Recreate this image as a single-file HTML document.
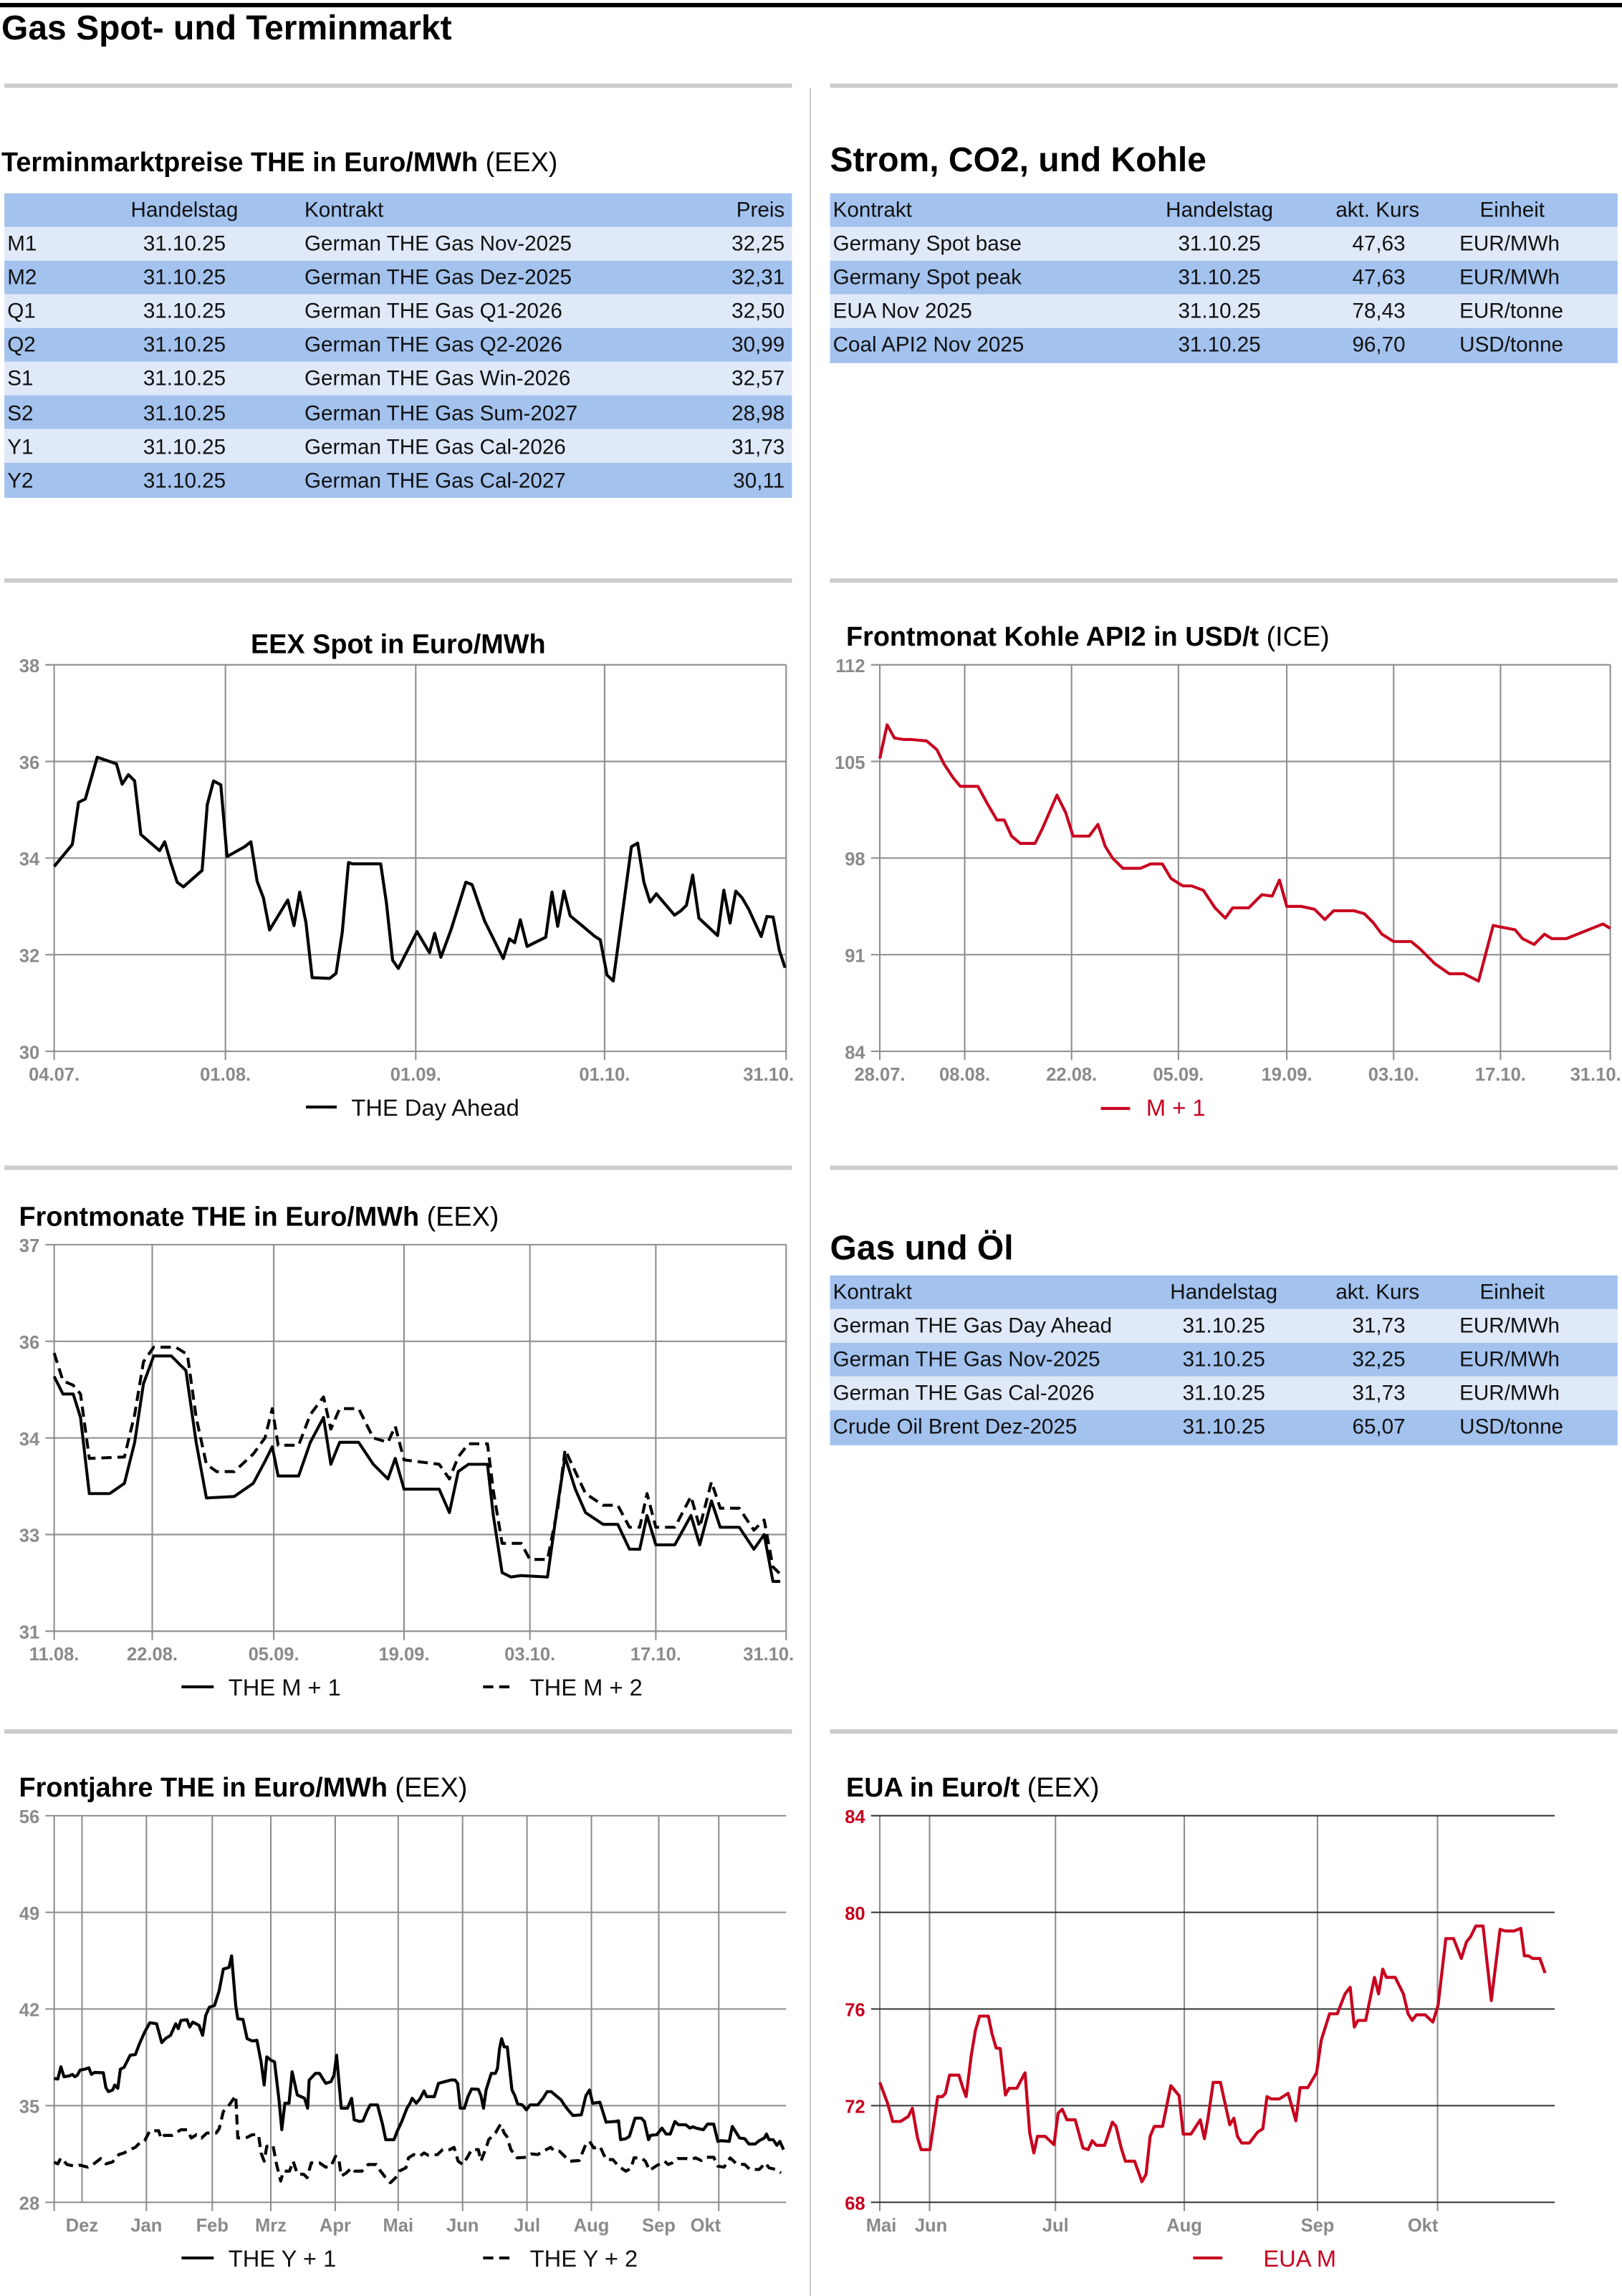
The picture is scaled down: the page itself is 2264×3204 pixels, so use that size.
<!DOCTYPE html>
<html><head><meta charset="utf-8"><style>
html,body{margin:0;padding:0;background:#fff}
svg{display:block}
text{font-family:"Liberation Sans",Arial,sans-serif}
.t{font-size:14.5px;fill:#111}
.tk{font-size:12.5px;fill:#8a8a8a;font-weight:bold}
.h{font-size:18.5px;font-weight:bold;fill:#000}
.hn{font-size:18.5px;fill:#000}
.g{stroke:#8c8c8c;stroke-width:1;fill:none}
.ln{fill:none;stroke:#000;stroke-width:2;stroke-linejoin:round}
.rd{fill:none;stroke:#c8001e;stroke-width:2;stroke-linejoin:round}
.ns{stroke-width:4.2}
.leg{font-size:16px;fill:#111}
</style></head><body>
<svg width="2264" height="3204" viewBox="0 0 1108 1568" preserveAspectRatio="none" xmlns="http://www.w3.org/2000/svg">
<rect x="0" y="2" width="1108" height="3" fill="#000"/>
<text x="1" y="27" style="font-size:23.5px;font-weight:bold">Gas Spot- und Terminmarkt</text>
<g fill="#cccccc">
<rect x="3" y="57" width="538" height="3"/><rect x="567" y="57" width="538" height="3"/>
<rect x="3" y="395" width="538" height="3"/><rect x="567" y="395" width="538" height="3"/>
<rect x="3" y="796" width="538" height="3"/><rect x="567" y="796" width="538" height="3"/>
<rect x="3" y="1181" width="538" height="3"/><rect x="567" y="1181" width="538" height="3"/>
<rect x="553" y="60" width="1" height="1508"/>
</g>

<text x="1" y="117"><tspan class="h">Terminmarktpreise THE in Euro/MWh</tspan><tspan class="hn"> (EEX)</tspan></text>
<g>
<rect x="3" y="132" width="538" height="23" fill="#a3c2ee"/>
<rect x="3" y="155" width="538" height="23" fill="#e0e9f8"/>
<rect x="3" y="178" width="538" height="23" fill="#a3c2ee"/>
<rect x="3" y="201" width="538" height="23" fill="#e0e9f8"/>
<rect x="3" y="224" width="538" height="23" fill="#a3c2ee"/>
<rect x="3" y="247" width="538" height="23" fill="#e0e9f8"/>
<rect x="3" y="270" width="538" height="23" fill="#a3c2ee"/>
<rect x="3" y="293" width="538" height="23" fill="#e0e9f8"/>
<rect x="3" y="316" width="538" height="24" fill="#a3c2ee"/>
</g>
<text class="t" x="126" y="148" text-anchor="middle">Handelstag</text><text class="t" x="208" y="148">Kontrakt</text><text class="t" x="536" y="148" text-anchor="end">Preis</text>
<text class="t" x="5" y="171">M1</text><text class="t" x="126" y="171" text-anchor="middle">31.10.25</text><text class="t" x="208" y="171">German THE Gas Nov-2025</text><text class="t" x="536" y="171" text-anchor="end">32,25</text>
<text class="t" x="5" y="194">M2</text><text class="t" x="126" y="194" text-anchor="middle">31.10.25</text><text class="t" x="208" y="194">German THE Gas Dez-2025</text><text class="t" x="536" y="194" text-anchor="end">32,31</text>
<text class="t" x="5" y="217">Q1</text><text class="t" x="126" y="217" text-anchor="middle">31.10.25</text><text class="t" x="208" y="217">German THE Gas Q1-2026</text><text class="t" x="536" y="217" text-anchor="end">32,50</text>
<text class="t" x="5" y="240">Q2</text><text class="t" x="126" y="240" text-anchor="middle">31.10.25</text><text class="t" x="208" y="240">German THE Gas Q2-2026</text><text class="t" x="536" y="240" text-anchor="end">30,99</text>
<text class="t" x="5" y="263">S1</text><text class="t" x="126" y="263" text-anchor="middle">31.10.25</text><text class="t" x="208" y="263">German THE Gas Win-2026</text><text class="t" x="536" y="263" text-anchor="end">32,57</text>
<text class="t" x="5" y="287">S2</text><text class="t" x="126" y="287" text-anchor="middle">31.10.25</text><text class="t" x="208" y="287">German THE Gas Sum-2027</text><text class="t" x="536" y="287" text-anchor="end">28,98</text>
<text class="t" x="5" y="310">Y1</text><text class="t" x="126" y="310" text-anchor="middle">31.10.25</text><text class="t" x="208" y="310">German THE Gas Cal-2026</text><text class="t" x="536" y="310" text-anchor="end">31,73</text>
<text class="t" x="5" y="333">Y2</text><text class="t" x="126" y="333" text-anchor="middle">31.10.25</text><text class="t" x="208" y="333">German THE Gas Cal-2027</text><text class="t" x="536" y="333" text-anchor="end">30,11</text>

<text x="567" y="117" style="font-size:23.5px;font-weight:bold">Strom, CO2, und Kohle</text>
<rect x="567" y="132" width="538" height="23" fill="#a3c2ee"/>
<rect x="567" y="155" width="538" height="23" fill="#e0e9f8"/>
<rect x="567" y="178" width="538" height="23" fill="#a3c2ee"/>
<rect x="567" y="201" width="538" height="23" fill="#e0e9f8"/>
<rect x="567" y="224" width="538" height="24" fill="#a3c2ee"/>
<text class="t" x="569" y="148">Kontrakt</text><text class="t" x="833" y="148" text-anchor="middle">Handelstag</text><text class="t" x="941" y="148" text-anchor="middle">akt. Kurs</text><text class="t" x="1033" y="148" text-anchor="middle">Einheit</text>
<text class="t" x="569" y="171">Germany Spot base</text><text class="t" x="833" y="171" text-anchor="middle">31.10.25</text><text class="t" x="960" y="171" text-anchor="end">47,63</text><text class="t" x="997" y="171">EUR/MWh</text>
<text class="t" x="569" y="194">Germany Spot peak</text><text class="t" x="833" y="194" text-anchor="middle">31.10.25</text><text class="t" x="960" y="194" text-anchor="end">47,63</text><text class="t" x="997" y="194">EUR/MWh</text>
<text class="t" x="569" y="217">EUA Nov 2025</text><text class="t" x="833" y="217" text-anchor="middle">31.10.25</text><text class="t" x="960" y="217" text-anchor="end">78,43</text><text class="t" x="997" y="217">EUR/tonne</text>
<text class="t" x="569" y="240">Coal API2 Nov 2025</text><text class="t" x="833" y="240" text-anchor="middle">31.10.25</text><text class="t" x="960" y="240" text-anchor="end">96,70</text><text class="t" x="997" y="240">USD/tonne</text>

<text x="567" y="860" style="font-size:23.5px;font-weight:bold">Gas und Öl</text>
<rect x="567" y="871" width="538" height="23" fill="#a3c2ee"/>
<rect x="567" y="894" width="538" height="23" fill="#e0e9f8"/>
<rect x="567" y="917" width="538" height="23" fill="#a3c2ee"/>
<rect x="567" y="940" width="538" height="23" fill="#e0e9f8"/>
<rect x="567" y="963" width="538" height="24" fill="#a3c2ee"/>
<text class="t" x="569" y="887">Kontrakt</text><text class="t" x="836" y="887" text-anchor="middle">Handelstag</text><text class="t" x="941" y="887" text-anchor="middle">akt. Kurs</text><text class="t" x="1033" y="887" text-anchor="middle">Einheit</text>
<text class="t" x="569" y="910">German THE Gas Day Ahead</text><text class="t" x="836" y="910" text-anchor="middle">31.10.25</text><text class="t" x="960" y="910" text-anchor="end">31,73</text><text class="t" x="997" y="910">EUR/MWh</text>
<text class="t" x="569" y="933">German THE Gas Nov-2025</text><text class="t" x="836" y="933" text-anchor="middle">31.10.25</text><text class="t" x="960" y="933" text-anchor="end">32,25</text><text class="t" x="997" y="933">EUR/MWh</text>
<text class="t" x="569" y="956">German THE Gas Cal-2026</text><text class="t" x="836" y="956" text-anchor="middle">31.10.25</text><text class="t" x="960" y="956" text-anchor="end">31,73</text><text class="t" x="997" y="956">EUR/MWh</text>
<text class="t" x="569" y="979">Crude Oil Brent Dez-2025</text><text class="t" x="836" y="979" text-anchor="middle">31.10.25</text><text class="t" x="960" y="979" text-anchor="end">65,07</text><text class="t" x="997" y="979">USD/tonne</text>

<!-- Chart 1 -->
<text x="272" y="446" class="h" text-anchor="middle">EEX Spot in Euro/MWh</text>
<g class="g">
<path d="M31 454H537M31 520H537M31 586H537M31 652H537M31 718H537"/>
<path d="M37 454V724M154 454V724M284 454V724M413 454V724M537 454V724"/>
</g>
<g class="tk" text-anchor="end">
<text x="27" y="459">38</text><text x="27" y="525">36</text><text x="27" y="591">34</text><text x="27" y="657">32</text><text x="27" y="723">30</text>
</g>
<g class="tk" text-anchor="middle">
<text x="37" y="738">04.07.</text><text x="154" y="738">01.08.</text><text x="284" y="738">01.09.</text><text x="413" y="738">01.10.</text><text x="525" y="738">31.10.</text>
</g>
<g transform="translate(37,454) scale(0.35461,0.22468) translate(-105,-147)">
<polyline class="ln ns" vector-effect="non-scaling-stroke" points="105,760 140,693 152,565 165,555 175,500 188,428 225,448 236,510 248,481 260,500 272,663 308,712 318,685 330,750 342,808 354,822 390,772 400,572 412,500 426,512 438,730 472,700 484,685 496,805 508,855 520,953 555,862 567,940 578,838 590,930 602,1098 636,1100 648,1085 660,960 672,748 680,752 734,752 745,870 757,1045 768,1070 804,958 828,1022 838,963 850,1036 870,950 898,808 910,815 934,925 970,1040 982,980 992,992 1003,922 1016,1003 1052,975 1064,838 1075,942 1087,835 1099,910 1122,940 1146,972 1157,983 1170,1090 1182,1108 1217,700 1229,689 1241,808 1253,868 1265,843 1300,908 1312,895 1323,878 1335,786 1347,917 1383,970 1395,832 1407,932 1418,835 1430,855 1443,890 1467,973 1478,912 1490,914 1502,1015 1513,1068"/>
</g>
<line x1="209" y1="756" x2="230" y2="756" stroke="#000" stroke-width="2"/>
<text x="240" y="762" class="leg">THE Day Ahead</text>

<!-- Chart 2 -->
<text x="578" y="441"><tspan class="h">Frontmonat Kohle API2 in USD/t</tspan><tspan class="hn"> (ICE)</tspan></text>
<g class="g">
<path d="M595 454H1100M595 520H1100M595 586H1100M595 652H1100M595 718H1100"/>
<path d="M601 454V724M659 454V724M732 454V724M805 454V724M879 454V724M952 454V724M1025 454V724M1100 454V724"/>
</g>
<g class="tk" text-anchor="end">
<text x="591" y="459">112</text><text x="591" y="525">105</text><text x="591" y="591">98</text><text x="591" y="657">91</text><text x="591" y="723">84</text>
</g>
<g class="tk" text-anchor="middle">
<text x="601" y="738">28.07.</text><text x="659" y="738">08.08.</text><text x="732" y="738">22.08.</text><text x="805" y="738">05.09.</text><text x="879" y="738">19.09.</text><text x="952" y="738">03.10.</text><text x="1025" y="738">17.10.</text><text x="1090" y="738">31.10.</text>
</g>
<polyline class="rd" points="601,518 606,495 611,504 617,505 622,505 633,506 640,512 645,522 651,531 656,537 668,537 674,548 681,560 686,560 691,571 697,576 707,576 712,566 722,543 728,555 733,571 744,571 750,563 755,578 760,586 767,593 779,593 786,590 794,590 800,600 808,605 814,605 822,608 830,620 837,627 842,620 853,620 862,611 869,612 874,601 879,619 889,619 898,621 905,628 911,622 925,622 932,624 938,630 944,638 952,643 964,643 970,648 980,658 990,665 1000,665 1010,670 1020,632 1025,633 1035,635 1040,641 1048,645 1055,638 1060,641 1070,641 1085,635 1095,631 1100,634"/>
<line x1="752" y1="757" x2="772" y2="757" stroke="#c8001e" stroke-width="2"/>
<text x="783" y="762" class="leg" style="fill:#c8001e">M + 1</text>

<!-- Chart 3 -->
<text x="13" y="837"><tspan class="h">Frontmonate THE in Euro/MWh</tspan><tspan class="hn"> (EEX)</tspan></text>
<g class="g">
<path d="M31 850H537M31 916H537M31 982H537M31 1048H537M31 1114H537"/>
<path d="M37 850V1120M104 850V1120M187 850V1120M276 850V1120M362 850V1120M448 850V1120M537 850V1120"/>
</g>
<g class="tk" text-anchor="end">
<text x="27" y="855">37</text><text x="27" y="921">36</text><text x="27" y="987">34</text><text x="27" y="1053">33</text><text x="27" y="1119">31</text>
</g>
<g class="tk" text-anchor="middle">
<text x="37" y="1134">11.08.</text><text x="104" y="1134">22.08.</text><text x="187" y="1134">05.09.</text><text x="276" y="1134">19.09.</text><text x="362" y="1134">03.10.</text><text x="448" y="1134">17.10.</text><text x="525" y="1134">31.10.</text>
</g>
<polyline class="ln" points="37,940 43,952 50,952 55,968 61,1020 75,1020 85,1013 92,985 98,945 105,926 117,926 127,936 134,985 141,1023 160,1022 173,1013 181,998 186,988 190,1008 204,1008 212,985 221,968 226,1000 232,985 245,985 255,1000 265,1010 270,996 276,1017 300,1017 307,1033 313,1005 320,1000 333,1000 337,1035 343,1074 349,1077 356,1076 374,1077 381,1027 386,995 393,1017 400,1033 412,1041 422,1041 430,1058 437,1058 442,1035 448,1055 461,1055 472,1035 478,1055 486,1025 492,1043 505,1043 515,1058 522,1048 528,1080 533,1080"/>
<polyline class="ln" stroke-dasharray="7,4" points="37,924 43,943 50,946 55,952 61,996 85,995 92,966 98,930 105,920 120,920 128,925 134,968 141,1000 148,1005 160,1005 173,993 181,982 186,962 190,987 204,987 212,966 221,954 226,976 232,962 245,962 255,982 265,985 270,974 276,997 300,1000 307,1010 313,995 320,986 333,986 337,1018 343,1054 356,1054 362,1065 374,1065 381,1030 386,990 393,1005 400,1020 412,1028 422,1028 430,1043 437,1043 442,1020 448,1043 461,1043 472,1022 478,1043 486,1012 492,1030 505,1030 515,1045 522,1038 528,1070 535,1077"/>
<line x1="124" y1="1152" x2="146" y2="1152" stroke="#000" stroke-width="2"/>
<text x="156" y="1158" class="leg">THE M + 1</text>
<line x1="330" y1="1152" x2="352" y2="1152" stroke="#000" stroke-width="2" stroke-dasharray="7,4"/>
<text x="362" y="1158" class="leg">THE M + 2</text>

<!-- Chart 4 -->
<text x="13" y="1227"><tspan class="h">Frontjahre THE in Euro/MWh</tspan><tspan class="hn"> (EEX)</tspan></text>
<g class="g">
<path d="M31 1240H537M31 1306H537M31 1372H537M31 1438H537M31 1504H537"/>
<path d="M37 1240V1510M56 1240V1504M100 1240V1510M145 1240V1510M185 1240V1510M229 1240V1510M272 1240V1510M316 1240V1510M360 1240V1510M404 1240V1510M450 1240V1510M491 1240V1510"/>
</g>
<g class="tk" text-anchor="end">
<text x="27" y="1245">56</text><text x="27" y="1311">49</text><text x="27" y="1377">42</text><text x="27" y="1443">35</text><text x="27" y="1509">28</text>
</g>
<g class="tk" text-anchor="middle">
<text x="56" y="1524">Dez</text><text x="100" y="1524">Jan</text><text x="145" y="1524">Feb</text><text x="185" y="1524">Mrz</text><text x="229" y="1524">Apr</text><text x="272" y="1524">Mai</text><text x="316" y="1524">Jun</text><text x="360" y="1524">Jul</text><text x="404" y="1524">Aug</text><text x="450" y="1524">Sep</text><text x="482" y="1524">Okt</text>
</g>
<g transform="translate(37,1240) scale(0.35336,0.22622) translate(-105,-117)">
<polyline class="ln ns" vector-effect="non-scaling-stroke" points="105,910 112,912 118,875 124,905 135,902 140,898 145,905 150,900 155,885 165,882 172,878 177,898 183,892 200,893 205,938 210,950 218,945 222,930 228,940 233,882 240,877 252,840 262,838 270,805 280,770 290,742 303,745 313,802 320,790 330,780 340,745 345,760 350,735 362,733 367,755 373,740 385,750 392,780 398,720 405,695 415,690 424,645 432,580 443,575 448,540 456,690 460,730 470,732 478,790 488,797 497,795 505,860 511,930 516,845 524,855 531,860 540,980 545,1065 551,985 559,985 565,890 575,960 589,970 595,1000 598,915 610,895 618,895 624,910 630,925 640,920 646,900 651,840 660,1000 672,1000 680,970 685,1035 695,1040 702,1038 710,1008 716,990 730,990 740,1050 746,1095 762,1095 768,1070 777,1040 787,1000 793,985 797,970 805,985 812,972 820,948 825,965 840,965 848,925 860,920 872,915 880,915 885,925 890,1000 898,1000 905,965 912,942 925,943 930,962 935,1000 940,945 950,895 958,895 962,880 966,820 970,790 975,815 981,815 990,945 995,960 1001,987 1010,990 1018,1005 1025,990 1040,990 1050,970 1058,950 1066,950 1075,962 1085,975 1092,992 1100,1008 1108,1022 1124,1020 1133,962 1140,945 1146,985 1160,982 1172,1042 1190,1040 1196,1038 1200,1095 1210,1092 1217,1085 1228,1030 1240,1030 1246,1040 1254,1095 1258,1082 1270,1080 1280,1060 1288,1078 1296,1078 1305,1040 1312,1050 1326,1050 1334,1060 1340,1056 1346,1060 1360,1065 1368,1048 1380,1048 1388,1100 1395,1098 1410,1100 1416,1055 1430,1090 1440,1092 1448,1108 1460,1108 1468,1098 1478,1090 1482,1078 1487,1095 1495,1095 1502,1112 1508,1100 1515,1125"/>
<polyline class="ln ns" vector-effect="non-scaling-stroke" stroke-dasharray="14,8" points="105,1163 112,1168 118,1150 130,1170 145,1175 155,1172 170,1178 180,1170 195,1152 205,1168 218,1162 230,1140 240,1135 252,1125 262,1118 272,1102 280,1098 290,1068 307,1068 312,1092 318,1082 333,1082 340,1075 350,1065 362,1065 370,1090 380,1080 390,1090 400,1075 418,1075 424,1062 432,1010 440,998 448,980 456,962 460,1090 478,1088 488,1080 500,1080 505,1135 511,1160 516,1115 528,1112 535,1170 543,1220 548,1190 560,1190 567,1160 575,1198 588,1200 594,1210 602,1165 618,1165 630,1178 640,1175 649,1145 655,1150 660,1205 670,1195 680,1180 686,1190 700,1190 712,1170 728,1170 735,1188 745,1208 755,1225 765,1210 772,1190 785,1180 790,1150 800,1140 812,1145 820,1135 828,1142 846,1140 856,1125 870,1125 878,1118 886,1160 895,1170 905,1145 912,1125 925,1125 930,1160 940,1120 945,1095 958,1075 968,1048 975,1075 980,1085 988,1125 1000,1150 1018,1148 1028,1138 1040,1140 1050,1130 1065,1118 1072,1130 1082,1130 1095,1150 1102,1160 1120,1158 1133,1108 1140,1100 1148,1120 1160,1115 1172,1155 1185,1155 1196,1175 1210,1190 1220,1182 1226,1150 1240,1150 1248,1160 1256,1188 1268,1175 1285,1160 1292,1170 1300,1165 1310,1152 1326,1152 1336,1155 1345,1150 1356,1158 1366,1148 1380,1148 1388,1175 1400,1178 1412,1150 1424,1168 1440,1170 1450,1185 1468,1185 1480,1165 1487,1180 1500,1185 1510,1195"/>
</g>
<line x1="124" y1="1542" x2="146" y2="1542" stroke="#000" stroke-width="2"/>
<text x="156" y="1548" class="leg">THE Y + 1</text>
<line x1="330" y1="1542" x2="352" y2="1542" stroke="#000" stroke-width="2" stroke-dasharray="7,4"/>
<text x="362" y="1548" class="leg">THE Y + 2</text>

<!-- Chart 5 EUA -->
<text x="578" y="1227"><tspan class="h">EUA in Euro/t</tspan><tspan class="hn"> (EEX)</tspan></text>
<g class="g">
<path d="M601 1240V1510M635 1240V1510M721 1240V1510M809 1240V1510M900 1240V1510M982 1240V1510"/>
</g>
<g stroke="#333" stroke-width="1">
<path d="M595 1240H1062M595 1306H1062M595 1372H1062M595 1438H1062M595 1504H1062"/>
</g>
<g text-anchor="end" style="font-size:12.5px;font-weight:bold;fill:#c8001e">
<text x="591" y="1245">84</text><text x="591" y="1311">80</text><text x="591" y="1377">76</text><text x="591" y="1443">72</text><text x="591" y="1509">68</text>
</g>
<g class="tk" text-anchor="middle">
<text x="602" y="1524">Mai</text><text x="636" y="1524">Jun</text><text x="721" y="1524">Jul</text><text x="809" y="1524">Aug</text><text x="900" y="1524">Sep</text><text x="972" y="1524">Okt</text>
</g>
<g transform="translate(601,1240) scale(0.3531,0.22622) translate(-135,-117)">
<polyline class="rd ns" vector-effect="non-scaling-stroke" points="135,922 150,985 160,1040 175,1040 190,1025 198,1000 208,1090 215,1125 232,1125 240,1040 247,965 256,965 262,955 270,900 288,900 296,940 302,965 312,840 320,765 328,722 345,722 352,775 360,818 368,820 378,960 385,940 400,940 416,893 425,1075 433,1135 440,1085 455,1085 472,1110 480,1015 488,1003 497,1035 513,1035 528,1120 538,1125 546,1098 554,1112 570,1112 585,1042 592,1055 602,1120 610,1160 628,1160 642,1222 650,1200 658,1085 666,1055 682,1055 698,932 714,962 722,1078 737,1078 755,1035 763,1092 770,1030 780,922 794,922 812,1050 820,1030 827,1085 835,1105 850,1105 866,1072 876,1062 884,965 892,972 908,972 925,955 940,1038 948,938 963,938 980,893 989,795 1005,715 1020,715 1035,655 1045,635 1053,755 1060,735 1075,735 1092,605 1100,655 1108,580 1115,605 1132,605 1148,655 1157,715 1165,735 1173,718 1190,718 1205,740 1215,690 1230,488 1245,488 1260,548 1270,498 1278,482 1288,450 1302,450 1318,675 1335,460 1345,465 1362,465 1375,457 1382,540 1390,540 1398,548 1412,548 1422,592"/>
</g>
<line x1="815" y1="1542" x2="835" y2="1542" stroke="#c8001e" stroke-width="2"/>
<text x="863" y="1548" class="leg" style="fill:#c8001e">EUA M</text>
</svg>
</body></html>
